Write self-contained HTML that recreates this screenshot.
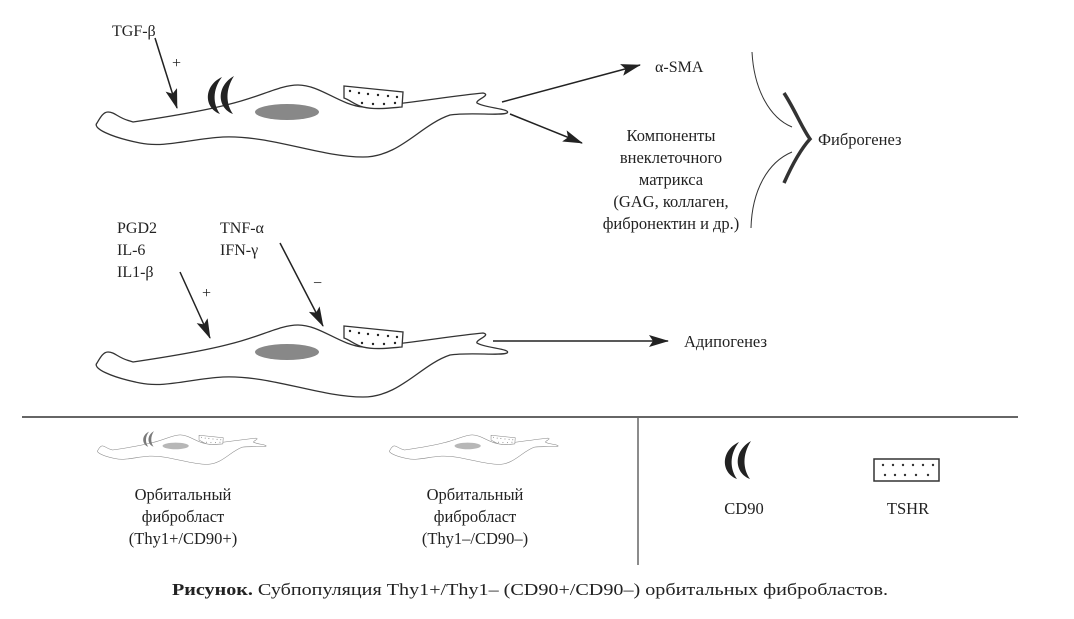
<!DOCTYPE html>
<html><head><meta charset="utf-8"><style>
html,body{margin:0;padding:0;background:#fff;}
svg{display:block;}
text{font-family:"Liberation Serif",serif;fill:#222;}
</style></head><body>
<svg width="1074" height="619" viewBox="0 0 1074 619" xmlns="http://www.w3.org/2000/svg">
<defs>
<marker id="ahb" markerWidth="20" markerHeight="12" refX="19" refY="6" orient="auto" markerUnits="userSpaceOnUse" viewBox="0 0 20 12">
<path d="M0,0 L20,6 L0,12 L4,6 Z" fill="#222"/>
</marker>
<g id="cellbody">
<path d="M133,122 C160,118 200,112 230,104 C260,97 280,85 298,85 C320,85 340,105 363,107 C400,105 450,96 483,93 C492,95 475,100 477,103 C485,108 512,109 507,113 C500,116 470,112 450,115 C420,125 400,157 363,157 C320,157 270,135 223,137 C190,139 165,148 140,143 C110,137 92,128 97,123 C100,118 103,112 108,112 C115,112 118,118 130,121 Z" fill="#fff" stroke="#333" stroke-width="1.3"/>
<ellipse cx="287" cy="112" rx="32" ry="8" fill="#888"/>
<path d="M344,86 L403,92 L402,107 C390,108 375,110 363,107 C355,105 350,100 344,98 Z" fill="#fff" stroke="#333" stroke-width="1.3"/>
<g fill="#222"><circle cx="350" cy="91" r="1.2"/><circle cx="359" cy="93" r="1.2"/><circle cx="368" cy="94" r="1.2"/><circle cx="378" cy="95" r="1.2"/><circle cx="388" cy="96" r="1.2"/><circle cx="397" cy="97" r="1.2"/><circle cx="362" cy="103" r="1.2"/><circle cx="373" cy="104" r="1.2"/><circle cx="384" cy="104" r="1.2"/><circle cx="395" cy="103" r="1.2"/></g>
</g>
<g id="cd90">
<path d="M222,77 C203,86 204,108 220,114 C213,104 212,90 222,77 Z" fill="#222"/>
<path d="M234,76 C216,86 217,108 233,114 C226,104 225,90 234,76 Z" fill="#222"/>
</g>
</defs>

<!-- top cell -->
<use href="#cellbody"/>
<use href="#cd90"/>
<text x="112" y="36" font-size="16">TGF-β</text>
<text x="172" y="68" font-size="16">+</text>
<line x1="155" y1="38" x2="177" y2="108" stroke="#222" stroke-width="1.5" marker-end="url(#ahb)"/>
<line x1="502" y1="102" x2="640" y2="65" stroke="#222" stroke-width="1.5" marker-end="url(#ahb)"/>
<line x1="510" y1="114" x2="582" y2="143" stroke="#222" stroke-width="1.5" marker-end="url(#ahb)"/>
<text x="655" y="72" font-size="16">α-SMA</text>
<g font-size="16.5" text-anchor="middle">
<text x="671" y="141">Компоненты</text>
<text x="671" y="163">внеклеточного</text>
<text x="671" y="185">матрикса</text>
<text x="671" y="207">(GAG, коллаген,</text>
<text x="671" y="229">фибронектин и др.)</text>
</g>
<path d="M752,52 C754,90 770,118 792,127" fill="none" stroke="#333" stroke-width="1"/>
<path d="M792,152 C768,162 752,190 751,228" fill="none" stroke="#333" stroke-width="1"/>
<path d="M784,93 C795,110 802,128 810,139 C800,150 792,165 784,183" fill="none" stroke="#333" stroke-width="3.5"/>
<text x="818" y="145" font-size="16.5">Фиброгенез</text>

<!-- bottom cell -->
<g transform="translate(0,240)"><use href="#cellbody"/></g>
<g font-size="16">
<text x="117" y="233">PGD2</text>
<text x="117" y="255">IL-6</text>
<text x="117" y="277">IL1-β</text>
<text x="220" y="233">TNF-α</text>
<text x="220" y="255">IFN-γ</text>
<text x="202" y="298">+</text>
<text x="313" y="288">−</text>
</g>
<line x1="180" y1="272" x2="210" y2="338" stroke="#222" stroke-width="1.5" marker-end="url(#ahb)"/>
<line x1="280" y1="243" x2="323" y2="326" stroke="#222" stroke-width="1.5" marker-end="url(#ahb)"/>
<line x1="493" y1="341" x2="668" y2="341" stroke="#222" stroke-width="1.5" marker-end="url(#ahb)"/>
<text x="684" y="347" font-size="16.5">Адипогенез</text>

<!-- dividers -->
<line x1="22" y1="417" x2="1018" y2="417" stroke="#666" stroke-width="2"/>
<line x1="638" y1="417" x2="638" y2="565" stroke="#666" stroke-width="1.5"/>

<!-- mini cells -->
<g transform="translate(58,400) scale(0.41)" opacity="0.6"><use href="#cellbody"/><use href="#cd90"/></g>
<g transform="translate(350,400) scale(0.41)" opacity="0.6"><use href="#cellbody"/></g>
<g font-size="16.5" text-anchor="middle">
<text x="183" y="500">Орбитальный</text>
<text x="183" y="522">фибробласт</text>
<text x="183" y="544">(Thy1+/CD90+)</text>
<text x="475" y="500">Орбитальный</text>
<text x="475" y="522">фибробласт</text>
<text x="475" y="544">(Thy1–/CD90–)</text>
</g>

<!-- legend -->
<g transform="translate(517,365)"><use href="#cd90"/></g>
<rect x="874" y="459" width="65" height="22" fill="#fff" stroke="#333" stroke-width="1.5"/>
<g fill="#333">
<circle cx="883" cy="465" r="1.2"/><circle cx="893" cy="465" r="1.2"/><circle cx="903" cy="465" r="1.2"/><circle cx="913" cy="465" r="1.2"/><circle cx="923" cy="465" r="1.2"/><circle cx="933" cy="465" r="1.2"/>
<circle cx="885" cy="475" r="1.2"/><circle cx="895" cy="475" r="1.2"/><circle cx="905" cy="475" r="1.2"/><circle cx="916" cy="475" r="1.2"/><circle cx="928" cy="475" r="1.2"/>
</g>
<text x="744" y="514" font-size="16.5" text-anchor="middle">CD90</text>
<text x="908" y="514" font-size="16.5" text-anchor="middle">TSHR</text>

<!-- caption -->
<text x="172" y="595" font-size="17" textLength="716" lengthAdjust="spacingAndGlyphs"><tspan font-weight="bold">Рисунок.</tspan> Субпопуляция Thy1+/Thy1– (CD90+/CD90–) орбитальных фибробластов.</text>
</svg>
</body></html>
